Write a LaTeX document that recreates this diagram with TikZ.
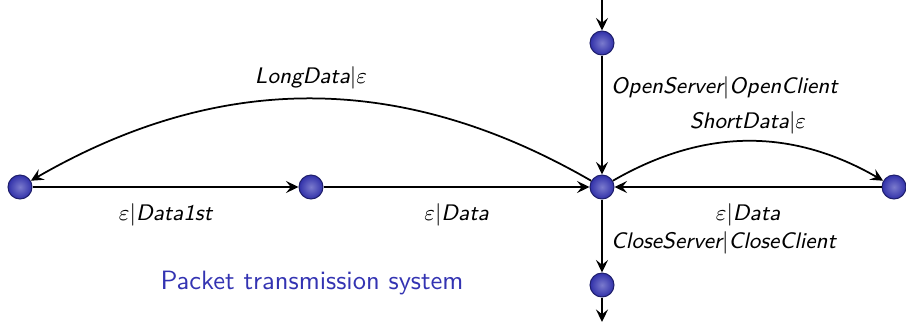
\documentclass[tikz,border=0pt]{standalone}
\usepackage{tikz}
\usetikzlibrary{arrows.meta}
\definecolor{PacketBlue}{RGB}{51,51,178}

\begin{document}
\begin{tikzpicture}[x=0.4pt,y=0.4pt,>={Stealth[length=5pt,width=4.8pt,inset=1.9pt]},
  st/.style={circle,inner sep=0pt,minimum size=9.6pt,inner color=PacketBlue!65!white,outer color=PacketBlue!95!black,draw=PacketBlue!60!black,thin},
  tr/.style={->,line width=0.7pt},
  lbl/.style={font=\fontsize{9}{11}\sffamily\slshape}]
\useasboundingbox (0,0) rectangle (906,322);
% states
\node[st] (s0) at (20,135) {};
\node[st] (s1) at (311,135) {};
\node[st] (s2) at (602,135) {};
\node[st] (s3) at (894,135) {};
\node[st] (s4) at (602,279) {};
\node[st] (s5) at (602,37) {};
\coordinate (in) at (602,322);
\coordinate (out) at (602,0);
% transitions
\draw[tr] (in) -- (s4);
\draw[tr] (s4) -- node[lbl,right,pos=0.27]{OpenServer$|$OpenClient} (s2);
\draw[tr] (s2) -- node[lbl,right,pos=0.6]{CloseServer$|$CloseClient} (s5);
\draw[tr] (s5) -- (out);
\draw[tr] (s0) -- node[lbl,below=3pt]{$\varepsilon|$Data1st} (s1);
\draw[tr] (s1) -- node[lbl,below=3pt]{$\varepsilon|$Data} (s2);
\draw[tr] (s3) -- node[lbl,below=3pt]{$\varepsilon|$Data} (s2);
\draw[tr] (s2) to[bend right=30] node[lbl,above]{LongData$|\varepsilon$} (s0);
\draw[tr] (s2) to[bend left=30] node[lbl,above=-1pt]{ShortData$|\varepsilon$} (s3);
\node[text=PacketBlue,font=\fontsize{10.6}{13}\sffamily] (title) at (312,39) {Packet transmission system};
\end{tikzpicture}
\end{document}
